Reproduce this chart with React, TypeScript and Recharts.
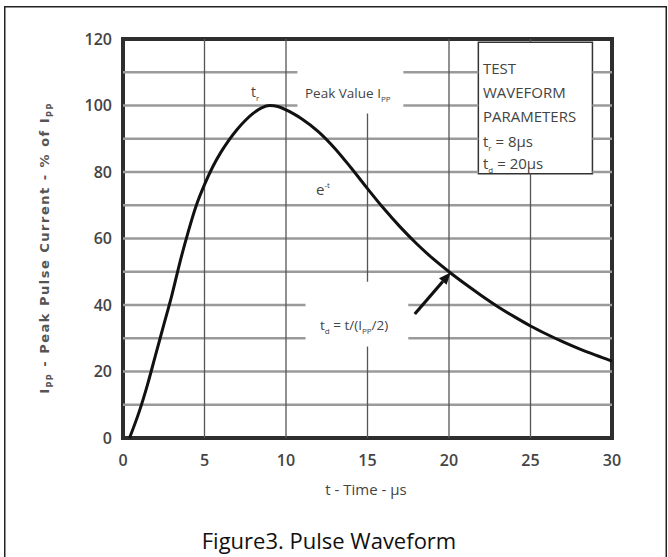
import React from "react";
import { LineChart, Line, XAxis, YAxis, ReferenceLine, ReferenceArea } from "recharts";

const timeUs = [0.4, 1, 1.5, 2, 2.5, 3, 3.5, 4, 4.5, 5, 5.5, 6, 6.5, 7, 7.5, 8, 8.5, 9, 9.5, 10, 10.5, 11, 12, 13, 14, 15, 16, 17, 18, 19, 20, 21, 22, 23, 24, 25, 26, 27, 28, 29, 30];
const currentPct = [0, 8, 16, 25, 34, 43, 53, 62, 70, 76.2, 81.5, 85.9, 89.6, 92.8, 95.5, 97.7, 99.3, 100, 99.7, 98.7, 97.4, 95.9, 92.1, 87.1, 81.2, 75, 69, 63.5, 58.5, 54, 50, 46.3, 42.8, 39.5, 36.5, 33.7, 31.2, 28.9, 26.8, 24.9, 23.1];
const xTicks = [0, 5, 10, 15, 20, 25, 30];
const yTicks = [0, 20, 40, 60, 80, 100, 120];
const hGrid = [10, 20, 30, 40, 50, 60, 70, 80, 90, 100, 110];
const vGrid = [5, 10, 15, 20, 25];
const arrowFrom = { x: 17.9, y: 37.3 };
const arrowTo = { x: 20.1, y: 49.8 };
// areas kept clear of grid lines (label backgrounds and the parameter box)
const clearAreas = [
  { x1: 10.7, x2: 17.2, y1: 97.6, y2: 120 },
  { x1: 11.2, x2: 17.5, y1: 27.5, y2: 47 },
  { x1: 21.8, x2: 28.8, y1: 79.5, y2: 119 },
];
const paramBox = clearAreas[2];

const data = timeUs.map((t, i) => ({ t, v: currentPct[i] }));

function cutSegments(lo: number, hi: number, gaps: [number, number][]) {
  const sorted = gaps.slice().sort((a, b) => a[0] - b[0]);
  const out: [number, number][] = [];
  let cur = lo;
  for (const [a, b] of sorted) {
    if (a > cur) out.push([cur, Math.min(a, hi)]);
    cur = Math.max(cur, b);
  }
  if (cur < hi) out.push([cur, hi]);
  return out;
}

const hSegments = hGrid.flatMap((y) =>
  cutSegments(
    0,
    30,
    clearAreas.filter((g) => y >= g.y1 && y <= g.y2).map((g) => [g.x1, g.x2] as [number, number])
  ).map(([a, b]) => ({ key: `h${y}-${a}`, seg: [{ x: a, y }, { x: b, y }] }))
);
const vSegments = vGrid.flatMap((x) =>
  cutSegments(
    0,
    120,
    clearAreas.filter((g) => x >= g.x1 && x <= g.x2).map((g) => [g.y1, g.y2] as [number, number])
  ).map(([a, b]) => ({ key: `v${x}-${a}`, seg: [{ x, y: a }, { x, y: b }] }))
);

const FONT = "'Open Sans', 'Noto Sans', sans-serif";

const ArrowShape = (props: any) => {
  const { x1, y1, x2, y2 } = props;
  if ([x1, y1, x2, y2].some((v) => typeof v !== "number" || isNaN(v))) return null;
  const dx = x2 - x1;
  const dy = y2 - y1;
  const len = Math.sqrt(dx * dx + dy * dy);
  const ux = dx / len;
  const uy = dy / len;
  const hl = 12;
  const hw = 5;
  const bx = x2 - ux * hl;
  const by = y2 - uy * hl;
  const px = -uy;
  const py = ux;
  return (
    <g>
      <line x1={x1} y1={y1} x2={bx} y2={by} stroke="#111" strokeWidth={3.2} />
      <polygon points={`${x2},${y2} ${bx + px * hw},${by + py * hw} ${bx - px * hw},${by - py * hw}`} fill="#111" />
    </g>
  );
};

export default function App() {
  return (
    <div style={{ position: "absolute", left: 0, top: 0, width: 668, height: 557, background: "#fff", overflow: "hidden" }}>
      <LineChart width={668} height={557} data={data} margin={{ top: 39, right: 56, bottom: 89, left: 0 }}>
        <XAxis
          dataKey="t"
          type="number"
          domain={[0, 30]}
          ticks={xTicks}
          axisLine={false}
          tickLine={false}
          tickSize={0}
          tickMargin={17}
          height={30}
          tick={{ fill: "#444", fontSize: 16, fontWeight: 600, fontFamily: FONT }}
        />
        <YAxis
          type="number"
          domain={[0, 120]}
          ticks={yTicks}
          axisLine={false}
          tickLine={false}
          tickSize={0}
          tickMargin={11}
          width={123}
          tick={{ fill: "#444", fontSize: 16, fontWeight: 600, fontFamily: FONT }}
        />
        <ReferenceArea x1={paramBox.x1} x2={paramBox.x2} y1={paramBox.y1} y2={paramBox.y2} fill="#fff" fillOpacity={1} stroke="#333" strokeWidth={1.5} />
        {hSegments.map((s) => (
          <ReferenceLine key={s.key} segment={s.seg} stroke="#9a9a9a" strokeWidth={2.5} />
        ))}
        {vSegments.map((s) => (
          <ReferenceLine key={s.key} segment={s.seg} stroke="#555" strokeWidth={1.3} />
        ))}
        <ReferenceArea x1={0} x2={30} y1={0} y2={120} fill="none" fillOpacity={0} stroke="#2e2e2e" strokeWidth={4} />
        <Line dataKey="v" type="monotone" stroke="#111" strokeWidth={3} dot={false} isAnimationActive={false} />
        <ReferenceLine segment={[arrowFrom, arrowTo]} shape={ArrowShape} />
      </LineChart>
      <svg width={668} height={557} style={{ position: "absolute", left: 0, top: 0, pointerEvents: "none" }}>
        <rect x={4.75} y={6.75} width={661.5} height={600} fill="none" stroke="#222" strokeWidth={1.5} />
        <g fontFamily={FONT} fill="#444">
          <text x={251} y={97} fontSize={14}>t<tspan fontSize={8} dy={4}>r</tspan></text>
          <text x={305} y={98} fontSize={13.5}>Peak Value I<tspan fontSize={8} dy={4}>PP</tspan></text>
          <text x={316} y={195} fontSize={15}>e<tspan fontSize={8} dy={-7}>-t</tspan></text>
          <text x={320} y={330} fontSize={13.5}>t<tspan fontSize={8} dy={4}>d</tspan><tspan dy={-4}> = t/(I</tspan><tspan fontSize={8} dy={4}>PP</tspan><tspan dy={-4}>/2)</tspan></text>
          <text x={483} y={74} fontSize={15}>TEST</text>
          <text x={483} y={98} fontSize={15}>WAVEFORM</text>
          <text x={483} y={122} fontSize={15}>PARAMETERS</text>
          <text x={483} y={147} fontSize={15}>t<tspan fontSize={8} dy={4}>r</tspan><tspan dy={-4}> = 8µs</tspan></text>
          <text x={483} y={169} fontSize={15}>t<tspan fontSize={8} dy={4}>d</tspan><tspan dy={-4}> = 20µs</tspan></text>
          <text x={366} y={495} fontSize={15} textAnchor="middle">t - Time - µs</text>
          <text transform="translate(49,248) rotate(-90)" fontSize={13} fontWeight={700} letterSpacing={1.5} textAnchor="middle" fill="#555" fontFamily="'DejaVu Sans', sans-serif">
            I<tspan fontSize={8} dy={4}>PP</tspan><tspan dy={-4}> - Peak Pulse Current - % of I</tspan><tspan fontSize={8} dy={4}>PP</tspan>
          </text>
        </g>
        <text x={329} y={549} fontSize={22} fontFamily={FONT} fill="#111" textAnchor="middle">Figure3. Pulse Waveform</text>
      </svg>
    </div>
  );
}
